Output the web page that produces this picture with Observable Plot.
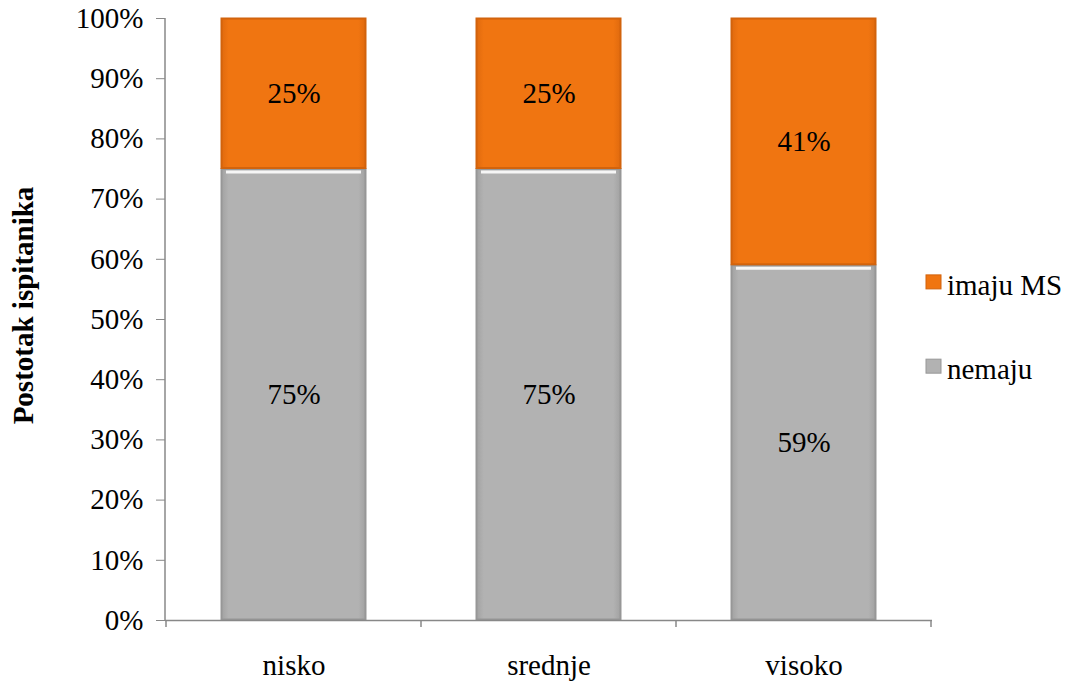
<!DOCTYPE html>
<html>
<head>
<meta charset="utf-8">
<script src="https://cdn.jsdelivr.net/npm/d3@7"></script>
<script src="https://cdn.jsdelivr.net/npm/@observablehq/plot@0.6"></script>
<style>
  body { margin: 0; background: #fff; }
  #chart { position: relative; width: 1068px; height: 683px; }
</style>
</head>
<body>
<svg width="0" height="0" style="position:absolute">
  <defs>
    <linearGradient id="g-gray" x1="0" x2="1" y1="0" y2="0">
      <stop offset="0" stop-color="#a2a2a2"/>
      <stop offset="0.05" stop-color="#b2b2b2"/>
      <stop offset="0.95" stop-color="#b2b2b2"/>
      <stop offset="1" stop-color="#a2a2a2"/>
    </linearGradient>
    <linearGradient id="g-orange" x1="0" x2="1" y1="0" y2="0">
      <stop offset="0" stop-color="#e06a0e"/>
      <stop offset="0.05" stop-color="#f07511"/>
      <stop offset="0.95" stop-color="#f07511"/>
      <stop offset="1" stop-color="#e06a0e"/>
    </linearGradient>
  </defs>
</svg>
<div id="chart"></div>
<script>
const categories = ["nisko", "srednje", "visoko"];
const seriesNames = ["nemaju", "imaju MS"];
const nemaju = [75, 75, 59];
const imajuMS = [25, 25, 41];
const yTicks = [0, 10, 20, 30, 40, 50, 60, 70, 80, 90, 100];
const colors = {"nemaju": "#b2b2b2", "imaju MS": "#f07511"};
const strokes = {"nemaju": "#979797", "imaju MS": "#d2630c"};
const fills = {"nemaju": "url(#g-gray)", "imaju MS": "url(#g-orange)"};
const legendOrder = ["imaju MS", "nemaju"];

const rows = [];
categories.forEach((c, i) => {
  rows.push({cat: c, series: "nemaju", y1: 0, y2: nemaju[i], v: nemaju[i]});
  rows.push({cat: c, series: "imaju MS", y1: nemaju[i], y2: nemaju[i] + imajuMS[i], v: imajuMS[i]});
});

const font = "'Liberation Serif', 'Times New Roman', serif";
const FS = 29;
const plot = Plot.plot({
  width: 1068,
  height: 683,
  marginLeft: 165,
  marginRight: 136,
  marginTop: 18,
  marginBottom: 63,
  style: {fontFamily: font, fontSize: FS + "px", color: "#000", background: "#fff"},
  x: {domain: categories, paddingInner: 0.43, paddingOuter: 0.215, label: null},
  y: {domain: [0, 100], label: null},
  marks: [
    ...seriesNames.map(s => Plot.rect(rows.filter(d => d.series === s), {
      x: "cat", y1: "y1", y2: "y2",
      fill: fills[s],
      stroke: strokes[s],
      strokeWidth: 2,
      inset: 0.5
    })),
    Plot.tickY(rows.filter(d => d.series === "nemaju"), {
      x: "cat", y: "y2", stroke: "#f6f6f6", strokeWidth: 3, dy: 3, inset: 5
    }),
    Plot.text(rows, {
      x: "cat", y: d => (d.y1 + d.y2) / 2,
      text: d => d.v + "%", fill: "#000", fontSize: FS, fontFamily: font
    }),
    Plot.axisY(yTicks, {
      tickFormat: d => d + "%", tickSize: 9, tickPadding: 13,
      stroke: "#888", fill: "#000", fontSize: FS, fontFamily: font
    }),
    Plot.axisX({tickSize: 0, tickPadding: 34, fill: "#000", fontSize: FS, fontFamily: font}),
    Plot.ruleY([0], {stroke: "#888", strokeWidth: 1.5}),
    Plot.text(["Postotak ispitanika"], {
      frameAnchor: "left", textAnchor: "middle", dx: -142, dy: -14, rotate: -90, text: d => d,
      fontWeight: "bold", fontSize: FS, fontFamily: font, fill: "#000"
    })
  ]
});

// y-axis vertical line and x boundary ticks, from the plot's scales
const svg = d3.select(plot);
const xs = plot.scale("x");
const ys = plot.scale("y");
const y0 = ys.apply(0), y100 = ys.apply(100);
const left = xs.range[0], right = xs.range[1];
svg.append("line").attr("x1", left).attr("x2", left).attr("y1", y100).attr("y2", y0)
  .attr("stroke", "#888").attr("stroke-width", 1.5);
const gap = xs.step - xs.bandwidth;
const bounds = categories.map(c => xs.apply(c) - gap / 2).concat([xs.apply(categories[categories.length - 1]) + xs.bandwidth + gap / 2]);
svg.append("g").selectAll("line").data(bounds).join("line")
  .attr("x1", d => d).attr("x2", d => d).attr("y1", y0).attr("y2", y0 + 7)
  .attr("stroke", "#888").attr("stroke-width", 1.5);

// legend
const lg = svg.append("g").attr("font-family", font).attr("font-size", FS).attr("text-anchor", "start");
const legendY = [ys.apply(55.5), ys.apply(41.5)];
legendOrder.forEach((s, i) => {
  lg.append("rect").attr("x", right - 6).attr("y", legendY[i] - 11).attr("width", 15).attr("height", 14)
    .attr("fill", colors[s]).attr("stroke", strokes[s]);
  lg.append("text").attr("x", right + 15).attr("y", legendY[i]).attr("dy", "0.32em")
    .attr("fill", "#000").text(s);
});

document.getElementById("chart").appendChild(plot);
</script>
</body>
</html>
